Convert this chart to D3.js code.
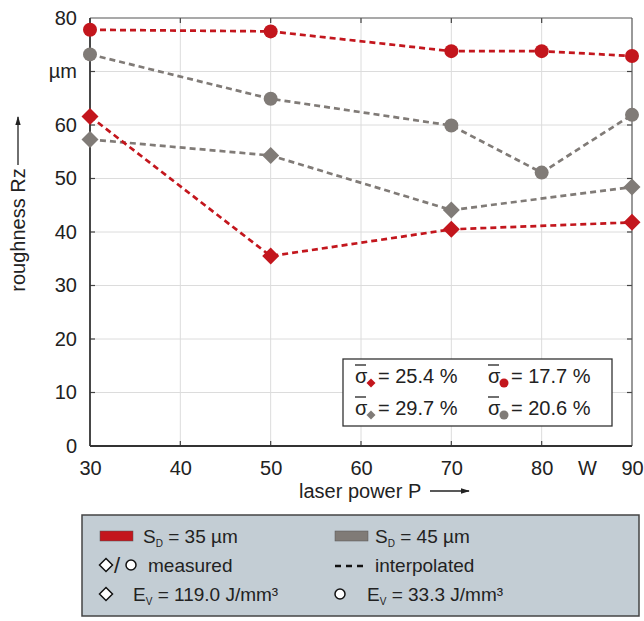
<!DOCTYPE html>
<html><head><meta charset="utf-8">
<script src="https://cdn.jsdelivr.net/npm/d3@7"></script>
<style>body{margin:0;background:#fff}svg{display:block;font-family:"Liberation Sans",Arial,sans-serif}</style>
</head><body><svg id="c" width="644" height="621"></svg>
<script>
// ---- data ----
const powerCircle = [30, 50, 70, 80, 90];
const powerDiamond = [30, 50, 70, 90];
const redCircle = [77.8, 77.5, 73.8, 73.8, 72.9];     // SD=35 µm, Ev=33.3
const grayCircle = [73.2, 64.9, 59.9, 51.1, 61.9];    // SD=45 µm, Ev=33.3
const redDiamond = [61.6, 35.5, 40.5, 41.8];          // SD=35 µm, Ev=119.0
const grayDiamond = [57.3, 54.3, 44.1, 48.4];         // SD=45 µm, Ev=119.0
const xTicks = [30, 40, 50, 60, 70, 80, 85, 90];
const xTickLabels = ["30", "40", "50", "60", "70", "80", "W", "90"];
const yTicks = [0, 10, 20, 30, 40, 50, 60, 70, 80];
const yTickLabels = ["0", "10", "20", "30", "40", "50", "60", "µm", "80"];
const sigmaLabels = [["diamond", "red", "25.4"], ["circle", "red", "17.7"], ["diamond", "gray", "29.7"], ["circle", "gray", "20.6"]];

const RED = "#c3161d", GRAY = "#807b77";
const col = {red: RED, gray: GRAY};
const svg = d3.select("#c");
const L = 90, R = 632, T = 18, B = 446;
const x = d3.scaleLinear().domain([30, 90]).range([L, R]);
const y = d3.scaleLinear().domain([0, 80]).range([B, T]);

// grid
const g = svg.append("g");
g.selectAll(".gx").data([40, 50, 60, 70, 80]).enter().append("line")
  .attr("x1", d => x(d)).attr("x2", d => x(d)).attr("y1", T).attr("y2", B)
  .attr("stroke", "#dcdcdc").attr("stroke-width", 1);
g.selectAll(".gy").data([10, 20, 30, 40, 50, 60, 70]).enter().append("line")
  .attr("x1", L).attr("x2", R).attr("y1", d => y(d)).attr("y2", d => y(d))
  .attr("stroke", "#dcdcdc").attr("stroke-width", 1);

// axes
const xAxis = d3.axisBottom(x).tickValues(xTicks).tickSize(0).tickPadding(0)
  .tickFormat((d, i) => xTickLabels[i]);
const ax = svg.append("g").attr("transform", `translate(0,${B})`).call(xAxis);
ax.select(".domain").remove();
ax.selectAll("text").attr("font-size", 20).attr("fill", "#222").attr("dy", null).attr("y", 29)
  .attr("font-family", '"Liberation Sans",Arial,sans-serif');
const yAxis = d3.axisLeft(y).tickValues(yTicks).tickSize(0).tickPadding(13)
  .tickFormat((d, i) => yTickLabels[i]);
const ay = svg.append("g").attr("transform", `translate(${L},0)`).call(yAxis);
ay.select(".domain").remove();
ay.selectAll("text").attr("font-size", 20).attr("fill", "#222")
  .attr("font-family", '"Liberation Sans",Arial,sans-serif');

// inner ticks
const tk = svg.append("g").attr("stroke", "#444").attr("stroke-width", 1.2);
[40, 50, 60, 70, 80].forEach(v => {
  tk.append("line").attr("x1", x(v)).attr("x2", x(v)).attr("y1", B).attr("y2", B - 5);
  tk.append("line").attr("x1", x(v)).attr("x2", x(v)).attr("y1", T).attr("y2", T + 5);
});
[10, 20, 30, 40, 50, 60, 70].forEach(v => {
  tk.append("line").attr("x1", L).attr("x2", L + 5).attr("y1", y(v)).attr("y2", y(v));
  tk.append("line").attr("x1", R).attr("x2", R - 5).attr("y1", y(v)).attr("y2", y(v));
});
// frame
svg.append("line").attr("x1", L).attr("x2", R).attr("y1", T).attr("y2", T).attr("stroke", "#555").attr("stroke-width", 1.2);
svg.append("line").attr("x1", R).attr("x2", R).attr("y1", T).attr("y2", B).attr("stroke", "#555").attr("stroke-width", 1.2);
svg.append("line").attr("x1", L).attr("x2", L).attr("y1", T).attr("y2", B).attr("stroke", "#333").attr("stroke-width", 1.8);
svg.append("line").attr("x1", L).attr("x2", R).attr("y1", B).attr("y2", B).attr("stroke", "#333").attr("stroke-width", 1.8);

// titles
svg.append("text").attr("transform", "translate(25,230) rotate(-90)").attr("text-anchor", "middle")
  .attr("font-size", 20).attr("fill", "#222").text("roughness Rz");
const defs = svg.append("defs");
defs.append("marker").attr("id", "ah").attr("viewBox", "0 0 10 10").attr("refX", 9).attr("refY", 5)
  .attr("markerWidth", 9).attr("markerHeight", 9).attr("markerUnits", "userSpaceOnUse").attr("orient", "auto")
  .append("path").attr("d", "M0,2 L10,5 L0,8 Z").attr("fill", "#222");
svg.append("line").attr("x1", 18).attr("x2", 18).attr("y1", 165).attr("y2", 117)
  .attr("stroke", "#222").attr("stroke-width", 1.3).attr("marker-end", "url(#ah)");
svg.append("text").attr("x", 299).attr("y", 498).attr("font-size", 20).attr("fill", "#222").text("laser power P");
svg.append("line").attr("x1", 430).attr("x2", 469).attr("y1", 491).attr("y2", 491)
  .attr("stroke", "#222").attr("stroke-width", 1.3).attr("marker-end", "url(#ah)");

// series
const line = d3.line().x(d => x(d[0])).y(d => y(d[1]));
const series = [
  {xs: powerDiamond, ys: grayDiamond, c: GRAY, m: "diamond"},
  {xs: powerCircle, ys: grayCircle, c: GRAY, m: "circle"},
  {xs: powerDiamond, ys: redDiamond, c: RED, m: "diamond"},
  {xs: powerCircle, ys: redCircle, c: RED, m: "circle"},
];
series.forEach(s => {
  const pts = s.xs.map((v, i) => [v, s.ys[i]]);
  svg.append("path").attr("d", line(pts)).attr("fill", "none").attr("stroke", s.c)
    .attr("stroke-width", 2.7).attr("stroke-dasharray", "6,4");
});
const diamondPath = r => `M0,${-r} L${r},0 L0,${r} L${-r},0 Z`;
series.forEach(s => {
  s.xs.forEach((v, i) => {
    if (s.m === "circle") {
      svg.append("circle").attr("cx", x(v)).attr("cy", y(s.ys[i])).attr("r", 7).attr("fill", s.c);
    } else {
      svg.append("path").attr("d", diamondPath(8.5)).attr("transform", `translate(${x(v)},${y(s.ys[i])})`).attr("fill", s.c);
    }
  });
});

// sigma box
svg.append("rect").attr("x", 343).attr("y", 359).attr("width", 269).attr("height", 67)
  .attr("fill", "#fff").attr("stroke", "#333").attr("stroke-width", 1.3);
const pos = [[355, 383], [488, 383], [355, 415], [488, 415]];
sigmaLabels.forEach((s, i) => {
  const [px, py] = pos[i];
  svg.append("text").attr("x", px).attr("y", py).attr("font-size", 20).attr("fill", "#222").text("σ");
  svg.append("line").attr("x1", px).attr("x2", px + 11).attr("y1", py - 18).attr("y2", py - 18).attr("stroke", "#222").attr("stroke-width", 1.3);
  if (s[0] === "diamond") {
    svg.append("path").attr("d", diamondPath(4.5)).attr("transform", `translate(${px + 16},${py})`).attr("fill", col[s[1]]);
  } else {
    svg.append("circle").attr("cx", px + 16).attr("cy", py).attr("r", 4.5).attr("fill", col[s[1]]);
  }
  svg.append("text").attr("x", px + 23).attr("y", py).attr("font-size", 20).attr("fill", "#222").text(`= ${s[2]} %`);
});

// legend
svg.append("rect").attr("x", 82).attr("y", 515).attr("width", 557).attr("height", 101)
  .attr("fill", "#c3cdd4").attr("stroke", "#444").attr("stroke-width", 1.5);
const fs = 19;
function sub(xp, yp, main, subt, rest) {
  const t = svg.append("text").attr("x", xp).attr("y", yp).attr("font-size", fs).attr("fill", "#222");
  t.append("tspan").text(main);
  t.append("tspan").attr("font-size", 10).attr("dy", 4).text(subt);
  t.append("tspan").attr("dy", -4).text(rest);
}
svg.append("rect").attr("x", 100).attr("y", 531).attr("width", 33).attr("height", 10).attr("fill", RED).attr("stroke", "#555").attr("stroke-width", 0.5);
sub(143, 543, "S", "D", " = 35 µm");
svg.append("rect").attr("x", 335).attr("y", 531).attr("width", 33).attr("height", 10).attr("fill", GRAY).attr("stroke", "#555").attr("stroke-width", 0.5);
sub(375, 543, "S", "D", " = 45 µm");
// row 2
svg.append("path").attr("d", diamondPath(6.5)).attr("transform", "translate(106,565)").attr("fill", "#fff").attr("stroke", "#111").attr("stroke-width", 1.5);
svg.append("text").attr("x", 114).attr("y", 573).attr("font-size", 22).attr("fill", "#222").text("/");
svg.append("circle").attr("cx", 131).attr("cy", 565).attr("r", 5).attr("fill", "#fff").attr("stroke", "#111").attr("stroke-width", 1.5);
svg.append("text").attr("x", 148).attr("y", 572).attr("font-size", fs).attr("fill", "#222").text("measured");
svg.append("line").attr("x1", 335).attr("x2", 363).attr("y1", 566).attr("y2", 566).attr("stroke", "#111").attr("stroke-width", 2.4).attr("stroke-dasharray", "6,5");
svg.append("text").attr("x", 375).attr("y", 572).attr("font-size", fs).attr("fill", "#222").text("interpolated");
// row 3
svg.append("path").attr("d", diamondPath(6.5)).attr("transform", "translate(106,594)").attr("fill", "#fff").attr("stroke", "#111").attr("stroke-width", 1.5);
sub(133, 601, "E", "V", " = 119.0 J/mm³");
svg.append("circle").attr("cx", 340).attr("cy", 594).attr("r", 5).attr("fill", "#fff").attr("stroke", "#111").attr("stroke-width", 1.5);
sub(367, 601, "E", "V", " = 33.3 J/mm³");
</script></body></html>
